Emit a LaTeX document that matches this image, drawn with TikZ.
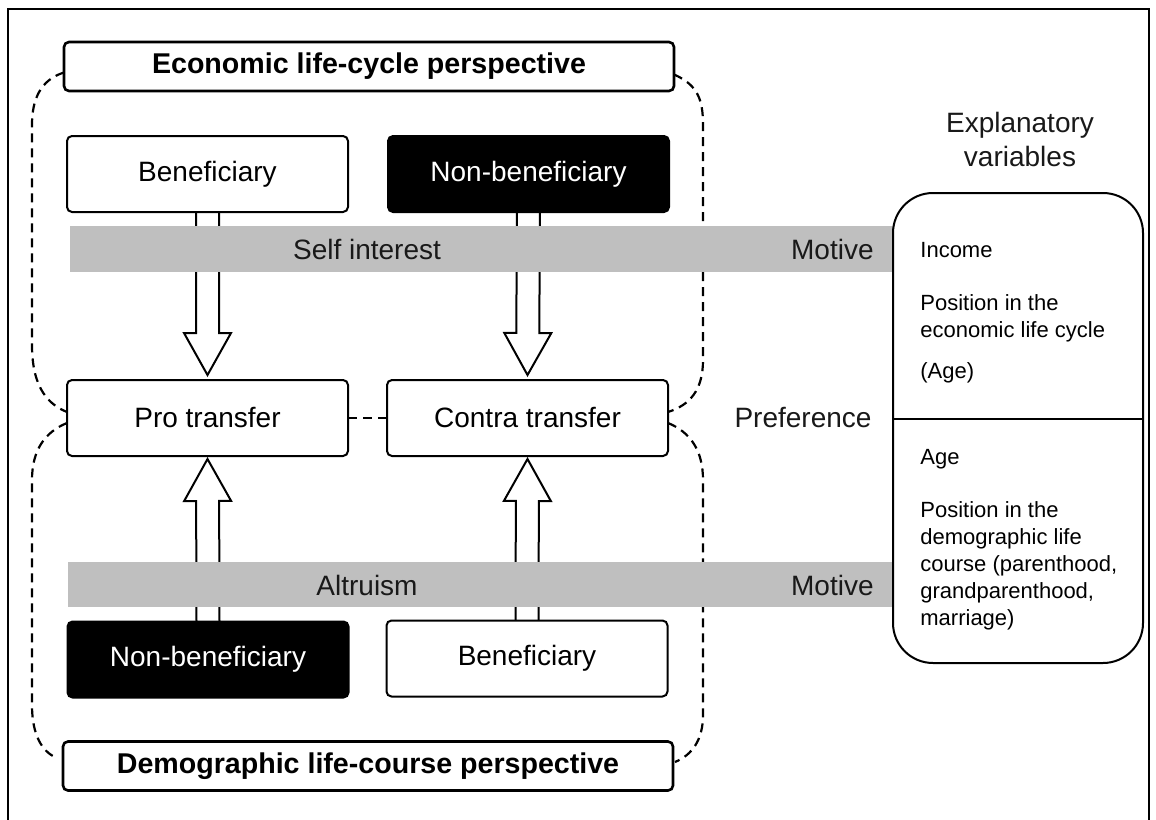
\documentclass[tikz,border=0pt]{standalone}
\usepackage{fontspec}
\setmainfont{Liberation Sans}
\usetikzlibrary{calc,backgrounds}

% hollow block arrow from #1 to #2
\newcommand{\fatarrow}[2]{%
  \coordinate (fa-base) at ($(#2)!21pt!(#1)$);
  \draw[hollow arrow] ($(#1)!5.75pt!-90:(#2)$) -- ($(fa-base)!5.75pt!90:(#1)$) -- ($(fa-base)!11.75pt!90:(#1)$) -- (#2) -- ($(fa-base)!11.75pt!-90:(#1)$) -- ($(fa-base)!5.75pt!-90:(#1)$) -- ($(#1)!5.75pt!90:(#2)$);%
}

\begin{document}
\begin{tikzpicture}[x=0.5pt, y=-0.5pt,
    box/.style={draw, line width=1pt, rounded corners=2.5pt, fill=white, minimum width=140.5pt, minimum height=38pt, inner sep=0pt, outer sep=0pt, font=\fontsize{14}{16.8}\selectfont},
    blackbox/.style={box, fill=black, text=white},
    header/.style={box, line width=1.3pt, minimum width=305pt, minimum height=24.5pt, font=\fontsize{14.3}{17}\selectfont\bfseries},
    label/.style={inner sep=0pt, text=black!90, font=\fontsize{14}{16.8}\selectfont},
    vartext/.style={inner sep=0pt, align=left, font=\fontsize{11}{13.5}\selectfont},
    band/.style={fill=black!25},
    outline/.style={line width=1.1pt, dash pattern=on 4.5pt off 3pt},
    hollow arrow/.style={draw, line width=1pt, fill=white, line join=miter}]
    \useasboundingbox (0,0) rectangle (1156,819);
    \draw[line width=1pt] (8,830) -- (8,9) -- (1149,9) -- (1149,830); %frame

    \node[header] (eco) at (369,66.5) {Economic life-cycle perspective};
    \node[header] (demo) at (368,766) {Demographic life-course perspective};

    \node[box] (benTop) at (207.5,174) {Beneficiary};
    \node[blackbox] (nonbenTop) at (528.5,174) {Non-beneficiary};
    \node[box] (pro) at (207.5,418) {Pro transfer};
    \node[box] (contra) at (527.5,418) {Contra transfer};
    \node[blackbox] (nonbenBot) at (208,659.5) {Non-beneficiary};
    \node[box] (benBot) at (527,658.5) {Beneficiary};

    \node[box, rounded corners=20pt, minimum width=125pt, minimum height=235pt] (expl) at (1018,428) {};
    \coordinate (divY) at (0,419);
    \draw[line width=1pt] (expl.west |- divY) -- (expl.east |- divY);
    \node[label, align=center] (explTitle) at (1020,139.5) {Explanatory\\variables};
    \node[label] (pref) at (803,418) {Preference};

    \node[vartext, anchor=north west] (econVars) at (920,242) {Income\\[13pt]Position in the\\economic life cycle\\[7pt](Age)};
    \node[vartext, anchor=north west] (demoVars) at (920,449) {Age\\[13pt]Position in the\\demographic life\\course (parenthood,\\grandparenthood,\\marriage)};

    \coordinate (tipPro) at ($(pro.north)+(0,-5)$);
    \coordinate (tipContra) at ($(contra.north)+(0,-5)$);
    \coordinate (tipProB) at ($(pro.south)+(0,3)$);
    \coordinate (tipContraB) at ($(contra.south)+(0,3)$);

    \begin{scope}[on background layer]
        % dashed perspective outlines
        \draw[outline] ($(eco.west)+(0,6)$) .. controls (40,80) and (32,100) .. (32,125) -- (32,345) .. controls (32,390) and (50,405) .. ($(pro.west)+(0,-6)$);
        \draw[outline] ($(pro.west)+(0,5)$) .. controls (45,432) and (32,450) .. (32,480) -- (32,705) .. controls (32,735) and (42,752) .. ($(demo.west)+(-6,-8)$);
        \draw[outline] ($(eco.east)+(0,8)$) .. controls (698,85) and (703,100) .. (703,125) -- (703,360) .. controls (703,390) and (690,405) .. ($(contra.east)+(0,-6)$);
        \draw[outline] ($(contra.east)+(0,5)$) .. controls (690,432) and (703,450) .. (703,480) -- (703,715) .. controls (703,740) and (692,755) .. ($(demo.east)+(2,-4)$);
        \draw[outline] (pro.east) -- (contra.west);

        \fatarrow{benTop.south}{tipPro}
        \fatarrow{nonbenTop.south}{tipContra}
        \fatarrow{nonbenBot.north}{tipProB}
        \fatarrow{benBot.north}{tipContraB}

        \fill[band] (70,226) rectangle (893,272); %self interest
        \fill[band] (68,562) rectangle (893,607); %altruism
    \end{scope}

    \node[label] (selfTxt) at (367,249) {Self interest};
    \node[label, anchor=east] (motiveTop) at (874,249) {Motive};
    \node[label] (altTxt) at (367,585) {Altruism};
    \node[label, anchor=east] (motiveBot) at (874,585) {Motive};
\end{tikzpicture}
\end{document}
